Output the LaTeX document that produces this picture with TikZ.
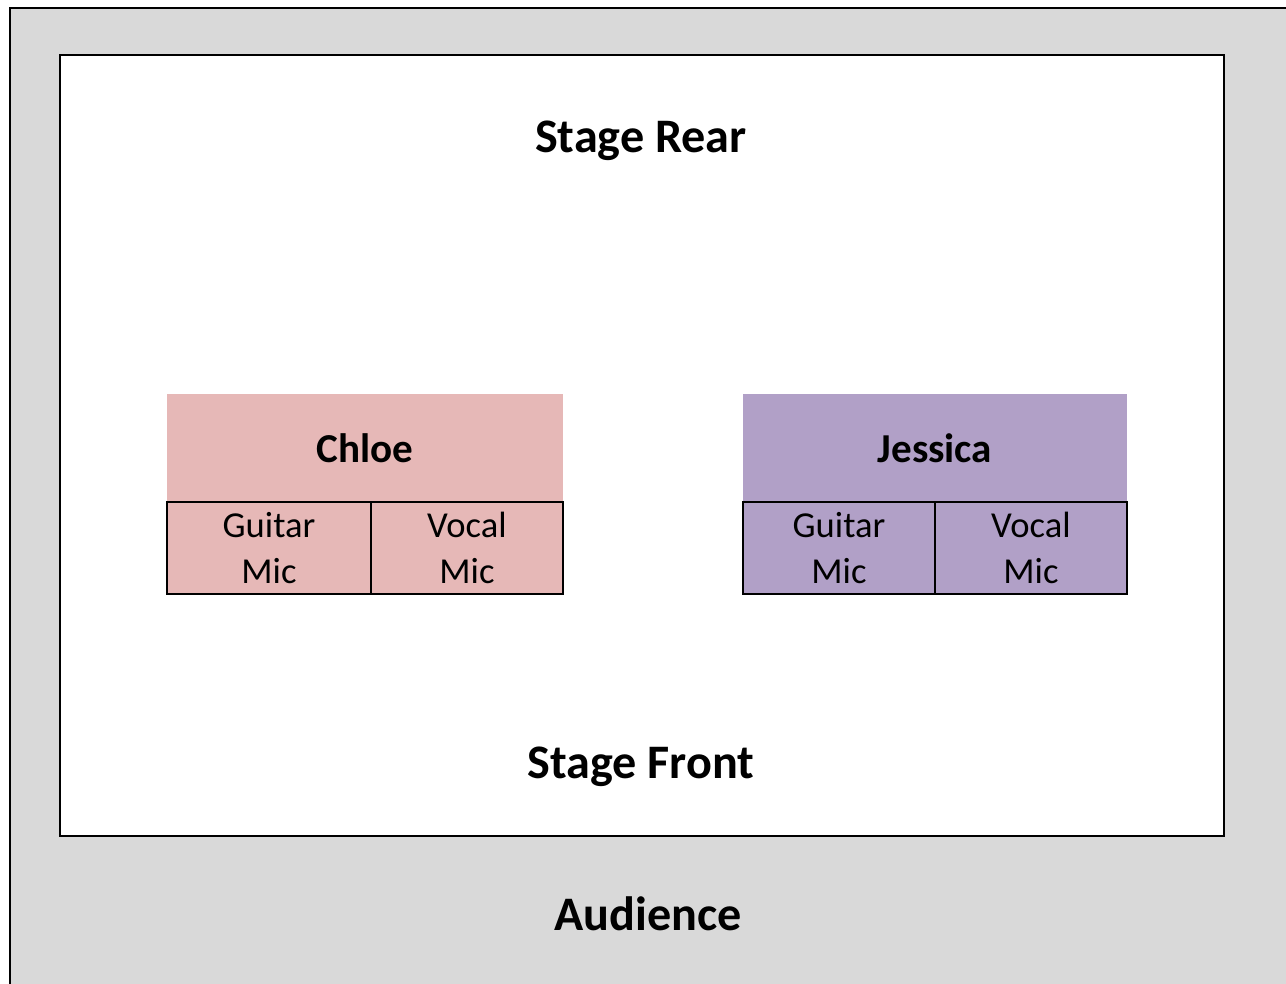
\documentclass[tikz,border=0pt]{standalone}
\usepackage{fontspec}
\setmainfont{Carlito}
\definecolor{audgray}{HTML}{D9D9D9}
\definecolor{chloepink}{HTML}{E6B8B7}
\definecolor{jesspurple}{HTML}{B1A0C7}

\begin{document}
\begin{tikzpicture}[
    areatext/.style={inner sep=0pt,font=\fontsize{13.7}{16}\selectfont\bfseries},
    singer/.style={minimum height=1.08cm,inner sep=0pt,outer sep=0pt,font=\fontsize{11.7}{14}\selectfont\bfseries},
    mic/.style={draw=black,line width=0.6pt,minimum height=0.92cm,inner sep=0pt,outer sep=0pt,align=center,font=\fontsize{10.4}{13.1}\selectfont}
  ]
    \useasboundingbox (0,0) rectangle (12.86,-9.83);
    \draw[line width=0.7pt,fill=audgray] (0.10,-0.08) rectangle (13.2,-10.2);
    \draw[line width=0.7pt,fill=white] (0.60,-0.55) rectangle (12.24,-8.36);
    \node[areatext] (rear) at (6.41,-1.41) {Stage Rear};
    \node[areatext] (front) at (6.41,-7.67) {Stage Front};
    \node[areatext] (aud) at (6.48,-9.14) {Audience};
    % Chloe
    \node[singer,fill=chloepink,minimum width=3.96cm] (chloe) at (3.65,-4.48) {Chloe};
    \node[mic,fill=chloepink,minimum width=2.04cm] (cguitar) at (2.69,-5.48) {Guitar\\Mic};
    \node[mic,fill=chloepink,minimum width=1.92cm] (cvocal) at (4.67,-5.48) {Vocal\\Mic};
    % Jessica
    \node[singer,fill=jesspurple,minimum width=3.84cm] (jess) at (9.35,-4.48) {Jessica};
    \node[mic,fill=jesspurple,minimum width=1.92cm] (jguitar) at (8.39,-5.48) {Guitar\\Mic};
    \node[mic,fill=jesspurple,minimum width=1.92cm] (jvocal) at (10.31,-5.48) {Vocal\\Mic};
\end{tikzpicture}
\end{document}
